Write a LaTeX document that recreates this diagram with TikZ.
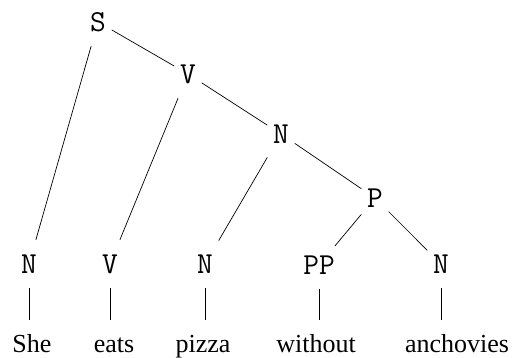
\documentclass[tikz,border=0pt]{standalone}
\usepackage{fontspec}
\setmainfont{Liberation Serif}
\begin{document}
\begin{tikzpicture}[x=1pt,y=-1pt,
  lbl/.style={font=\fontsize{30.5}{32}\selectfont\ttfamily, inner sep=0pt, minimum width=27pt, minimum height=48pt},
  wrd/.style={font=\fontsize{26}{30}\selectfont, inner xsep=0pt, inner ysep=14pt, text height=18pt, text depth=6pt, anchor=base},
  edge/.style={line width=0.7pt}]
\useasboundingbox (0,0) rectangle (514,358);
% internal nodes
\node[lbl] (s)  at (98,22)  {S};
\node[lbl] (v1) at (188,74) {V};
\node[lbl] (n1) at (281,134) {N};
\node[lbl] (p)  at (375,198) {P};
% preterminals
\node[lbl] (n2) at (29,264)  {N};
\node[lbl] (v2) at (110,264) {V};
\node[lbl] (n3) at (205,264) {N};
\node[lbl] (pp) at (319,265) {PP};
\node[lbl] (n4) at (441,264) {N};
% words
\node[wrd] (w1) at (32,352)  {She};
\node[wrd] (w2) at (114,352) {eats};
\node[wrd] (w3) at (203,352) {pizza};
\node[wrd] (w4) at (316,352) {without};
\node[wrd] (w5) at (457,352) {anchovies};
% edges
\draw[edge] (s) -- (v1);
\draw[edge] (s) -- (n2);
\draw[edge] (v1) -- (n1);
\draw[edge] (v1) -- (v2);
\draw[edge] (n1) -- (p);
\draw[edge] (n1) -- (n3);
\draw[edge] (p) -- (pp);
\draw[edge] (p) -- (n4);
\draw[edge] (n2) -- (n2 |- w1.north);
\draw[edge] (v2) -- (v2 |- w2.north);
\draw[edge] (n3) -- (n3 |- w3.north);
\draw[edge] (pp) -- (pp |- w4.north);
\draw[edge] (n4) -- (n4 |- w5.north);
\end{tikzpicture}
\end{document}
